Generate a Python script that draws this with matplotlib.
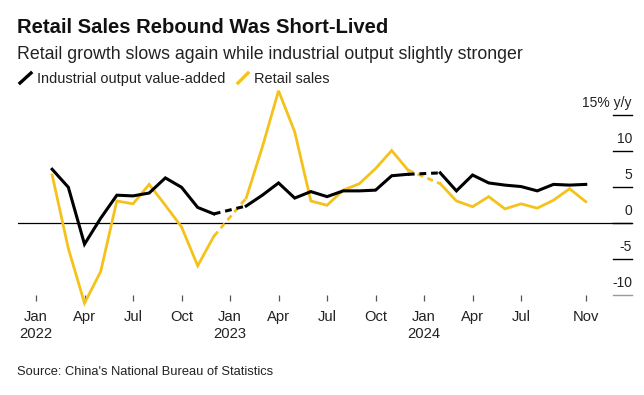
"""China industrial output vs retail sales, y/y growth."""

import matplotlib.pyplot as plt
import numpy as np
from matplotlib.lines import Line2D
from matplotlib.transforms import blended_transform_factory

plt.rcParams["font.family"] = ["Liberation Sans", "DejaVu Sans"]

# months counted from Jan 2022 (0) to Nov 2024 (34); Jan values are not published
months = np.arange(1, 35)
industrial = [7.5, 5.0, -2.9, 0.7, 3.9, 3.8, 4.2, 6.3, 5.0, 2.2, 1.3,
              np.nan, 2.4, 3.9, 5.6, 3.5, 4.4, 3.7, 4.5, 4.5, 4.6, 6.6, 6.8,
              np.nan, 7.0, 4.5, 6.7, 5.6, 5.3, 5.1, 4.5, 5.4, 5.3, 5.4]
retail = [6.7, -3.5, -11.1, -6.7, 3.1, 2.7, 5.4, 2.5, -0.5, -5.9, -1.8,
          np.nan, 3.5, 10.6, 18.4, 12.7, 3.1, 2.5, 4.6, 5.5, 7.6, 10.1, 7.4,
          np.nan, 5.5, 3.1, 2.3, 3.7, 2.0, 2.7, 2.1, 3.2, 4.8, 3.0]

tick_months = [0, 3, 6, 9, 12, 15, 18, 21, 24, 27, 30, 34]
tick_labels = ["Jan\n2022", "Apr", "Jul", "Oct", "Jan\n2023", "Apr", "Jul", "Oct",
               "Jan\n2024", "Apr", "Jul", "Nov"]
y_ticks = [-10, -5, 0, 5, 10, 15]
y_labels = ["-10", "-5", "0", "5", "10", "15% y/y"]

BLACK = "#000000"
YELLOW = "#f4c21b"

W, H = 644, 395
fig = plt.figure(figsize=(W / 100, H / 100), dpi=100)
ax = fig.add_axes([18 / W, 1 - 300.7 / H, 614 / W, (300.7 - 85) / H])
ax.set_xlim(-1.113, 36.86)
ax.set_ylim(-10.75, 19.2)

ind = np.array(industrial, dtype=float)
ret = np.array(retail, dtype=float)

for series, color, lw, z in [(ret, YELLOW, 2.0, 2), (ind, BLACK, 2.2, 3)]:
    ax.plot(months, series, color=color, lw=lw, solid_joinstyle="miter",
            zorder=z, clip_on=False)
    # dashed bridge over the missing January values
    gaps = np.where(np.isnan(series))[0]
    for g in gaps:
        ax.plot([months[g - 1], months[g + 1]], [series[g - 1], series[g + 1]],
                color=color, lw=lw, ls=(0, (2.2, 1.6)), zorder=z, clip_on=False)

ax.axhline(0, color=BLACK, lw=0.9, zorder=1)

# right-hand value labels sitting on short rules
tr = blended_transform_factory(ax.transAxes, ax.transData)
for v, lab in zip(y_ticks, y_labels):
    col = "#999999" if v == -10 else BLACK
    ax.plot([0.969, 1.0], [v, v], color=col, lw=1.0, transform=tr, clip_on=False)
    ax.text(1.0, v + 1.1, lab, transform=tr, ha="right", va="baseline",
            fontsize=10, color="#222222")

for s in ax.spines.values():
    s.set_visible(False)
ax.set_yticks([])
ax.set_xticks(tick_months)
ax.set_xticklabels(tick_labels, fontsize=10.6, linespacing=1.2, color="#222222")
ax.tick_params(axis="x", direction="in", length=4, width=0.9, color="#555555", pad=7)

fig.text(17 / W, 1 - 33.3 / H, "Retail Sales Rebound Was Short-Lived",
         fontsize=14.6, fontweight="bold", color="#111111", va="baseline")
fig.text(17 / W, 1 - 59.3 / H,
         "Retail growth slows again while industrial output slightly stronger",
         fontsize=12.75, color="#222222", va="baseline")

fig.add_artist(Line2D([20 / W, 31 / W], [1 - 83 / H, 1 - 73 / H], color=BLACK, lw=2.4))
fig.text(37 / W, 1 - 83.3 / H, "Industrial output value-added", fontsize=10.45,
         color="#222222", va="baseline")
fig.add_artist(Line2D([238 / W, 248 / W], [1 - 83 / H, 1 - 73 / H], color=YELLOW, lw=2.4))
fig.text(254 / W, 1 - 83.3 / H, "Retail sales", fontsize=10.45,
         color="#222222", va="baseline")

fig.text(17 / W, 1 - 375 / H, "Source: China's National Bureau of Statistics",
         fontsize=9.25, color="#222222", va="baseline")

fig.savefig("out.png", dpi=100)
